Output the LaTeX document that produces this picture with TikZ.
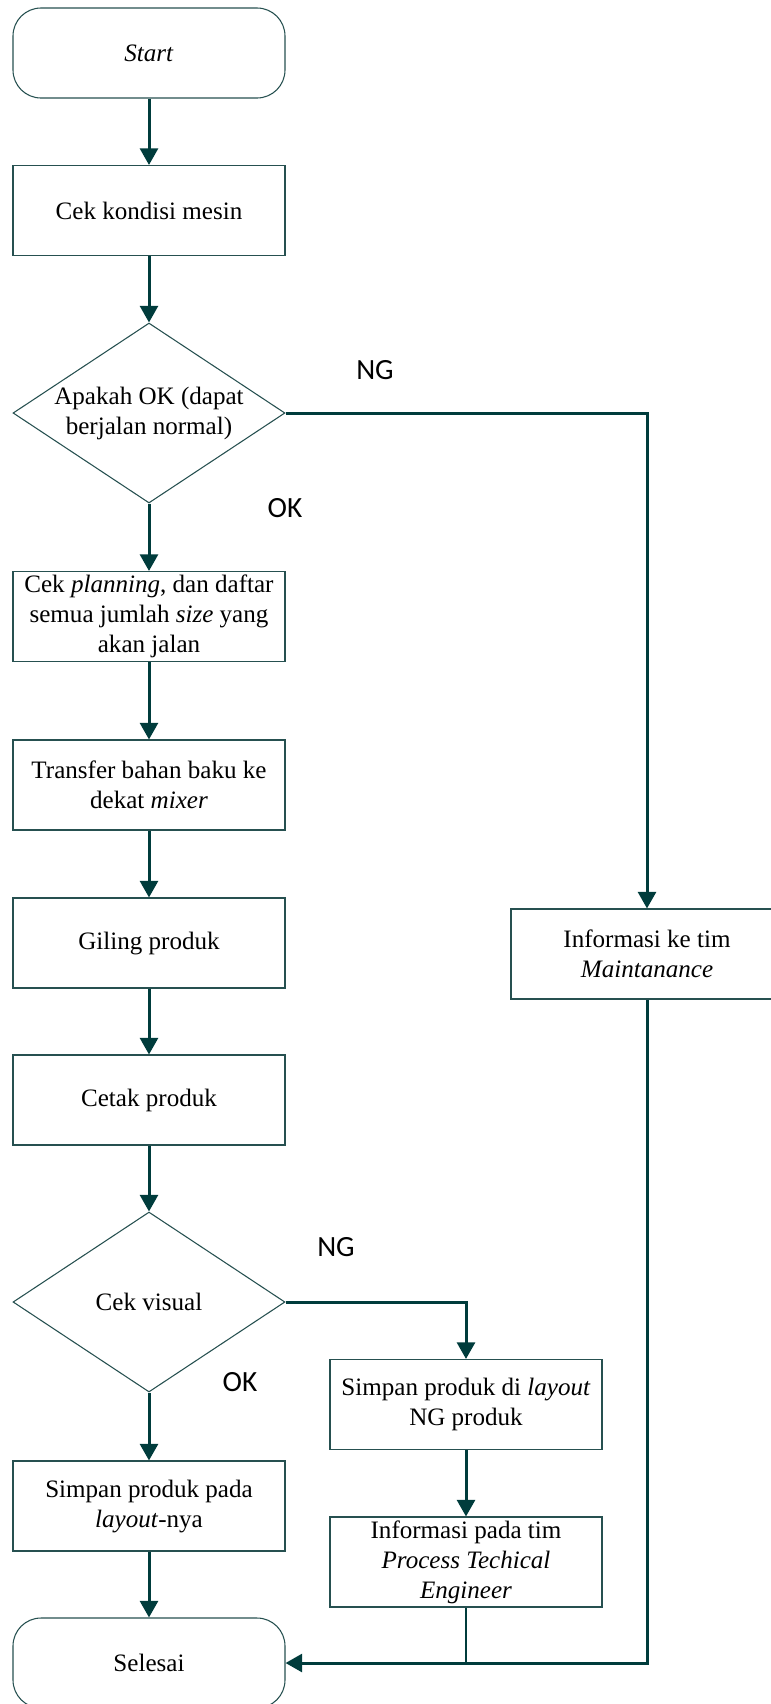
\documentclass[tikz,border=0pt]{standalone}
\usepackage{fontspec}
\setmainfont{Liberation Serif}
\newfontfamily\labelfont{Carlito}
\usetikzlibrary{arrows.meta,shapes.geometric}
\definecolor{flowline}{RGB}{0,60,60}
\definecolor{boxline}{RGB}{38,80,80}

\begin{document}
\begin{tikzpicture}[x=0.75pt,y=-0.75pt,
  every node/.style={font=\fontsize{18.8}{22.5}\selectfont},
  procbox/.style={draw=boxline, line width=0.8pt, rectangle,
    minimum width=204pt, minimum height=67.5pt, align=center, inner sep=2pt},
  termbox/.style={procbox, rounded corners=21pt},
  decision/.style={draw=boxline, line width=0.8pt, diamond,
    minimum width=204pt, minimum height=135pt, inner sep=0pt},
  flow/.style={draw=flowline, line width=2.25pt,
    -{Triangle[length=12.5pt,width=13.5pt]}},
  joinline/.style={draw=flowline, line width=1.3pt},
  tag/.style={font=\labelfont\fontsize{22}{26}\selectfont}]

\useasboundingbox (0,0) rectangle (771,1704);

% main column
\node[termbox] (start) at (149,53) {\textit{Start}};
\node[procbox] (check) at (149,210.5) {Cek kondisi mesin};
\node[decision, label={[align=center]center:Apakah OK (dapat\\berjalan normal)}]
  (d1) at (149,413) {};
\node[procbox] (plan) at (149,616.5)
  {Cek \textit{planning}, dan daftar\\semua jumlah \textit{size} yang\\akan jalan};
\node[procbox] (transfer) at (149,785) {Transfer bahan baku ke\\dekat \textit{mixer}};
\node[procbox] (grind) at (149,943) {Giling produk};
\node[procbox] (print) at (149,1100) {Cetak produk};
\node[decision, label={[align=center]center:Cek visual}] (d2) at (149,1302) {};
\node[procbox] (store) at (149,1506) {Simpan produk pada\\\textit{layout}-nya};
\node[termbox] (finish) at (149,1663) {Selesai};

% side branches
\node[procbox] (maint) at (647,954) {Informasi ke tim\\\textit{Maintanance}};
\node[procbox] (ngstore) at (466,1404.5) {Simpan produk di \textit{layout}\\NG produk};
\node[procbox] (pte) at (466,1562)
  {Informasi pada tim\\\textit{Process Techical}\\\textit{Engineer}};

% branch labels
\node[tag] (ng1) at (375,370) {NG};
\node[tag] (ok1) at (285,508) {OK};
\node[tag] (ng2) at (336,1247) {NG};
\node[tag] (ok2) at (240,1382) {OK};

% connectors
\draw[flow] (start) -- (check);
\draw[flow] (check) -- (d1);
\draw[flow] (d1) -- (plan);
\draw[flow] (d1.east) -| (maint.north);
\draw[flow] (plan) -- (transfer);
\draw[flow] (transfer) -- (grind);
\draw[flow] (grind) -- (print);
\draw[flow] (print) -- (d2);
\draw[flow] (d2) -- (store);
\draw[flow] (d2.east) -| (ngstore.north);
\draw[flow] (ngstore) -- (pte);
\draw[flow] (store) -- (finish);
\draw[flow] (maint.south) |- (finish.east);
\draw[joinline] (pte.south) -- (pte.south |- finish.east);
\end{tikzpicture}
\end{document}
